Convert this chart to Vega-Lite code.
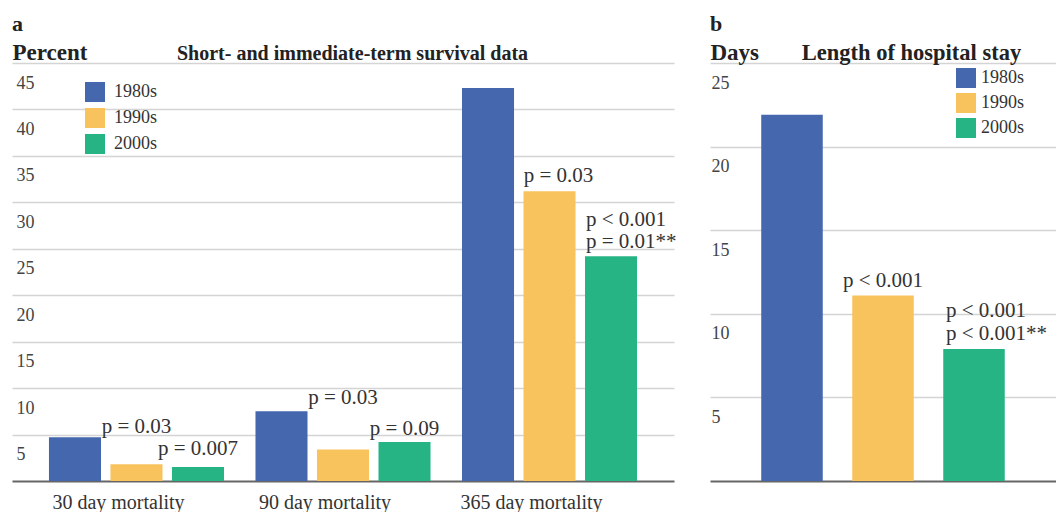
{
  "$schema": "https://vega.github.io/schema/vega-lite/v6.json",
  "padding": {"left": 12, "top": 12, "right": 0, "bottom": 0},
  "bounds": "flush",
  "spacing": 36,
  "resolve": {"legend": {"color": "independent"}},
  "config": {"font": "Liberation Serif", "view": {"stroke": null}},
  "datasets": {
    "mortality": [
      {"period": "30 day mortality", "decade": "1980s", "value": 4.7, "note": ""},
      {"period": "30 day mortality", "decade": "1990s", "value": 1.8, "note": "p = 0.03"},
      {"period": "30 day mortality", "decade": "2000s", "value": 1.5, "note": "p = 0.007"},
      {"period": "90 day mortality", "decade": "1980s", "value": 7.5, "note": ""},
      {"period": "90 day mortality", "decade": "1990s", "value": 3.4, "note": "p = 0.03"},
      {"period": "90 day mortality", "decade": "2000s", "value": 4.2, "note": "p = 0.09"},
      {"period": "365 day mortality", "decade": "1980s", "value": 42.3, "note": ""},
      {"period": "365 day mortality", "decade": "1990s", "value": 31.2, "note": "p = 0.03"},
      {"period": "365 day mortality", "decade": "2000s", "value": 24.2, "note": "p < 0.001\np = 0.01**"}
    ],
    "stay": [
      {"decade": "1980s", "value": 21.9, "note": ""},
      {"decade": "1990s", "value": 11.1, "note": "p < 0.001"},
      {"decade": "2000s", "value": 7.9, "note": "p < 0.001\np < 0.001**"}
    ]
  },
  "hconcat": [
    {
      "width": 662,
      "height": 418,
      "title": {"text": "a", "anchor": "start", "frame": "group", "fontSize": 22, "fontWeight": "bold", "color": "#222", "baseline": "alphabetic", "offset": -11},
      "data": {"name": "mortality"},
      "encoding": {
        "x": {
          "field": "period", "type": "nominal",
          "sort": ["30 day mortality", "90 day mortality", "365 day mortality"],
          "scale": {"paddingInner": 0.1065, "paddingOuter": 0.156},
          "axis": {
            "title": "Short- and immediate-term survival data",
            "titleX": 340, "titleY": -421.5, "titleAlign": "center", "titleBaseline": "alphabetic", "titleAngle": 0,
            "titleFontSize": 20, "titleFontWeight": "bold", "titleColor": "#222",
            "labelAngle": 0, "labelFontSize": 20, "labelColor": "#333", "labelOffset": -18, "labelPadding": 11,
            "ticks": false, "tickSize": 0, "domain": true, "domainColor": "#666", "domainWidth": 2, "grid": false
          }
        },
        "xOffset": {"field": "decade", "type": "nominal", "scale": {"paddingInner": 0.154, "paddingOuter": 0.077}},
        "y": {
          "field": "value", "type": "quantitative",
          "scale": {"domain": [0, 45], "nice": false},
          "axis": {
            "title": "Percent", "titleAngle": 0, "titleX": 0, "titleY": -3.5, "titleAlign": "left", "titleBaseline": "alphabetic",
            "titleFontSize": 23, "titleFontWeight": "bold", "titleColor": "#222",
            "values": [5, 10, 15, 20, 25, 30, 35, 40, 45],
            "labelAlign": "left", "labelBaseline": "middle", "labelPadding": -4, "labelOffset": 20,
            "labelFontSize": 18, "labelColor": "#444", "labelFlush": false, "labelOverlap": false,
            "ticks": false, "tickSize": 0, "domain": false, "grid": true, "gridColor": "#d4d4d4", "gridWidth": 1.5
          }
        }
      },
      "layer": [
        {
          "mark": {"type": "bar"},
          "encoding": {
            "color": {
              "field": "decade", "type": "nominal",
              "scale": {"domain": ["1980s", "1990s", "2000s"], "range": ["#4467AE", "#F8C35C", "#27B485"]},
              "legend": {"title": null, "orient": "none", "legendX": 73, "legendY": 19, "direction": "vertical",
                "symbolType": "square", "symbolSize": 400, "symbolStrokeWidth": 0, "symbolOpacity": 1,
                "labelFontSize": 18, "labelColor": "#333", "labelOffset": 9, "rowPadding": 6, "padding": 0}
            }
          }
        },
        {
          "transform": [{"filter": "datum.period === '30 day mortality' && datum.decade === '1990s'"}],
          "mark": {"type": "text", "baseline": "bottom", "align": "center", "dy": -27, "fontSize": 21, "color": "#333"},
          "encoding": {"text": {"field": "note", "type": "nominal"}}
        },
        {
          "transform": [{"filter": "datum.period === '30 day mortality' && datum.decade === '2000s'"}],
          "mark": {"type": "text", "baseline": "bottom", "align": "center", "dy": -8, "fontSize": 21, "color": "#333"},
          "encoding": {"text": {"field": "note", "type": "nominal"}}
        },
        {
          "transform": [{"filter": "datum.period === '90 day mortality' && datum.decade === '1990s'"}],
          "mark": {"type": "text", "baseline": "bottom", "align": "center", "dy": -41, "fontSize": 21, "color": "#333"},
          "encoding": {"text": {"field": "note", "type": "nominal"}}
        },
        {
          "transform": [{"filter": "datum.period === '90 day mortality' && datum.decade === '2000s'"}],
          "mark": {"type": "text", "baseline": "bottom", "align": "center", "dy": -3, "fontSize": 21, "color": "#333"},
          "encoding": {"text": {"field": "note", "type": "nominal"}}
        },
        {
          "transform": [{"filter": "datum.period === '365 day mortality' && datum.decade === '1990s'"}],
          "mark": {"type": "text", "baseline": "bottom", "align": "center", "dx": 9, "dy": -5, "fontSize": 21, "color": "#333"},
          "encoding": {"text": {"field": "note", "type": "nominal"}}
        },
        {
          "transform": [{"filter": "datum.period === '365 day mortality' && datum.decade === '2000s'"}],
          "mark": {"type": "text", "baseline": "bottom", "align": "left", "dx": -25, "dy": -26, "fontSize": 21, "color": "#333", "lineBreak": "\n", "lineHeight": 22},
          "encoding": {"text": {"field": "note", "type": "nominal"}}
        }
      ]
    },
    {
      "width": 346,
      "height": 418,
      "title": {"text": "b", "anchor": "start", "frame": "group", "fontSize": 22, "fontWeight": "bold", "color": "#222", "baseline": "alphabetic", "offset": -11},
      "data": {"name": "stay"},
      "encoding": {
        "x": {
          "field": "decade", "type": "nominal",
          "scale": {"paddingInner": 0.324, "paddingOuter": 0.563},
          "axis": {
            "title": "Length of hospital stay",
            "titleX": 201, "titleY": -421.5, "titleAlign": "center", "titleBaseline": "alphabetic", "titleAngle": 0,
            "titleFontSize": 22.5, "titleFontWeight": "bold", "titleColor": "#222",
            "labels": false, "ticks": false, "tickSize": 0, "domain": true, "domainColor": "#666", "domainWidth": 2, "grid": false
          }
        },
        "y": {
          "field": "value", "type": "quantitative",
          "scale": {"domain": [0, 25], "nice": false},
          "axis": {
            "title": "Days", "titleAngle": 0, "titleX": 0, "titleY": -3.5, "titleAlign": "left", "titleBaseline": "alphabetic",
            "titleFontSize": 23, "titleFontWeight": "bold", "titleColor": "#222",
            "values": [5, 10, 15, 20, 25],
            "labelAlign": "left", "labelBaseline": "middle", "labelPadding": -1, "labelOffset": 20,
            "labelFontSize": 18, "labelColor": "#444", "labelFlush": false, "labelOverlap": false,
            "ticks": false, "tickSize": 0, "domain": false, "grid": true, "gridColor": "#d4d4d4", "gridWidth": 1.5
          }
        }
      },
      "layer": [
        {
          "mark": {"type": "bar"},
          "encoding": {
            "color": {
              "field": "decade", "type": "nominal",
              "scale": {"domain": ["1980s", "1990s", "2000s"], "range": ["#4467AE", "#F8C35C", "#27B485"]},
              "legend": {"title": null, "orient": "none", "legendX": 246, "legendY": 5, "direction": "vertical",
                "symbolType": "square", "symbolSize": 400, "symbolStrokeWidth": 0, "symbolOpacity": 1,
                "labelFontSize": 18, "labelColor": "#333", "labelOffset": 5, "rowPadding": 5, "padding": 0}
            }
          }
        },
        {
          "transform": [{"filter": "datum.decade === '1990s'"}],
          "mark": {"type": "text", "baseline": "bottom", "align": "center", "dy": -4, "fontSize": 21, "color": "#333"},
          "encoding": {"text": {"field": "note", "type": "nominal"}}
        },
        {
          "transform": [{"filter": "datum.decade === '2000s'"}],
          "mark": {"type": "text", "baseline": "bottom", "align": "left", "dx": -28, "dy": -28, "fontSize": 21, "color": "#333", "lineBreak": "\n", "lineHeight": 23},
          "encoding": {"text": {"field": "note", "type": "nominal"}}
        }
      ]
    }
  ]
}
